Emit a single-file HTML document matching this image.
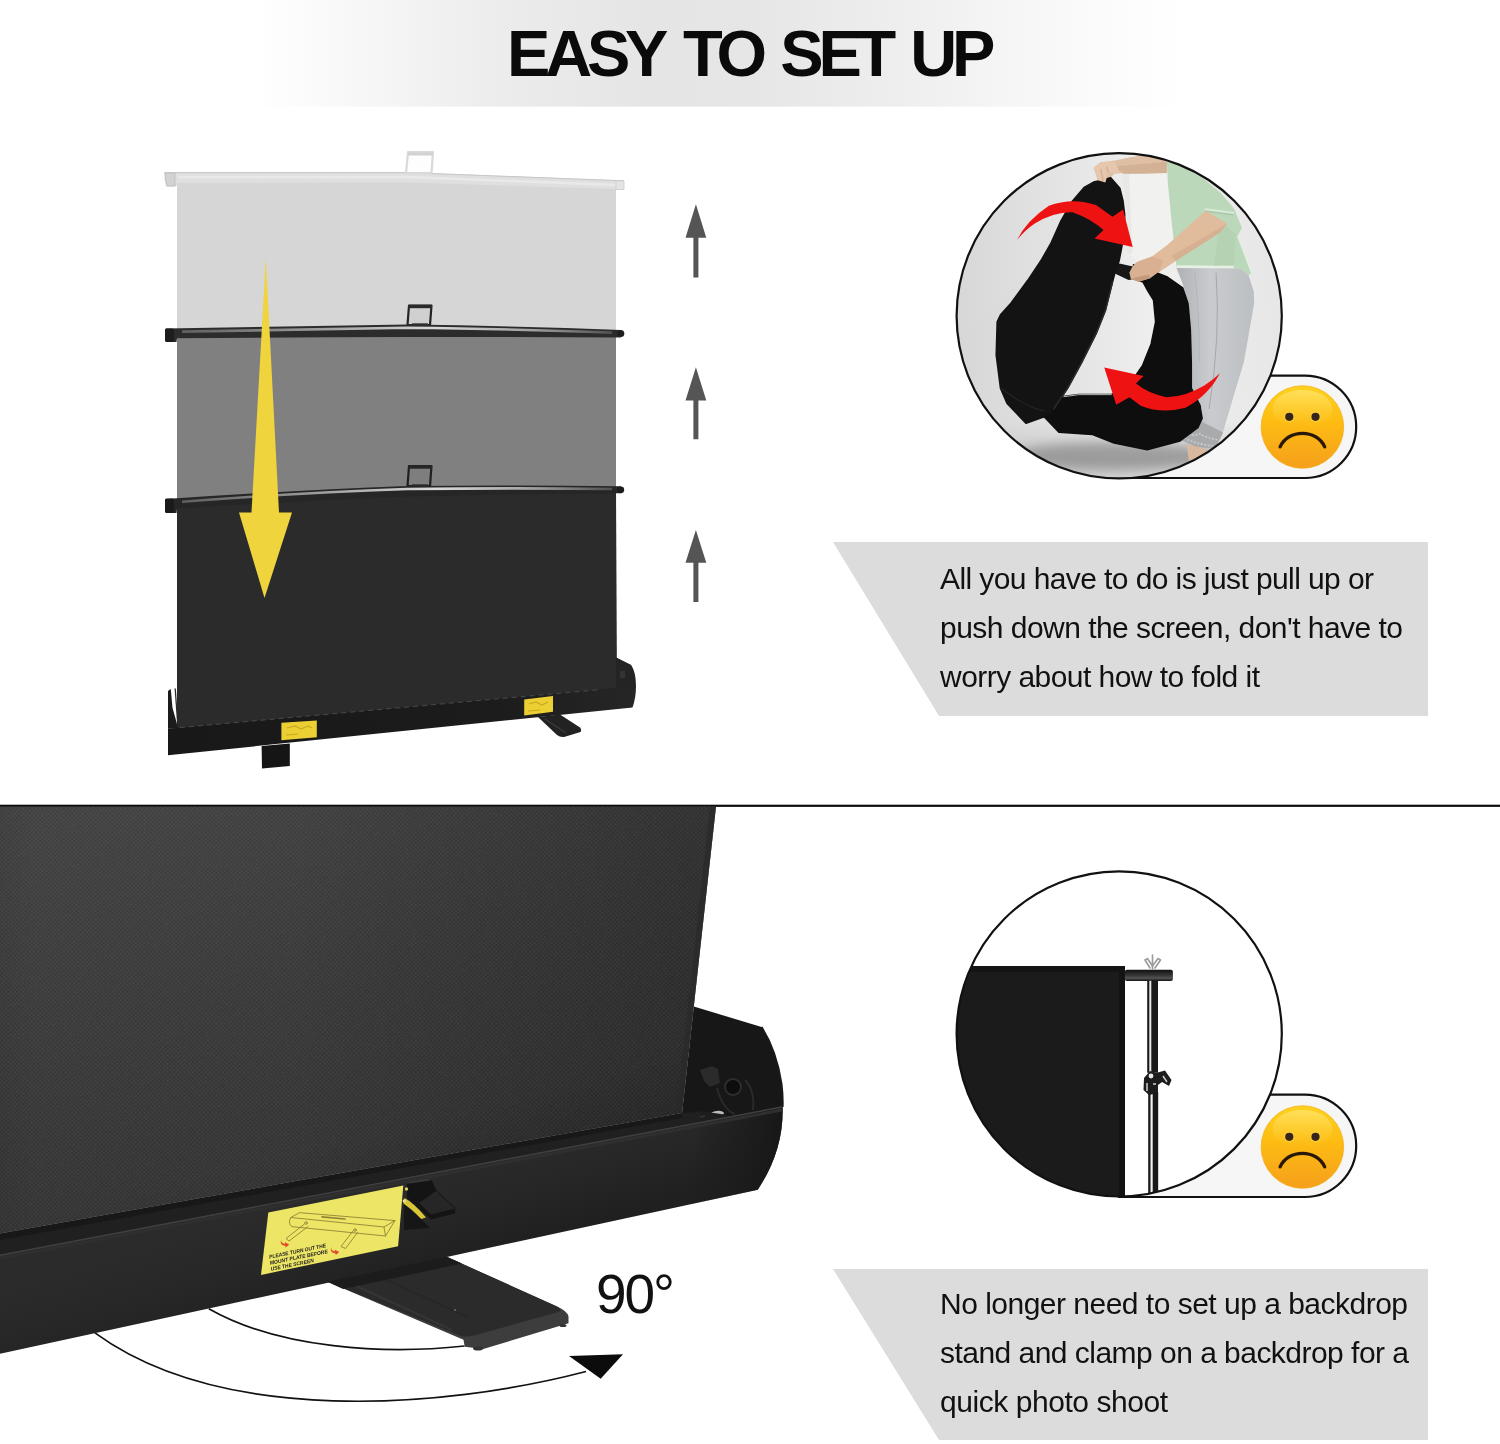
<!DOCTYPE html>
<html lang="en">
<head>
<meta charset="utf-8">
<title>Easy to set up</title>
<style>
  html, body { margin: 0; padding: 0; background: #fff; }
  body { width: 1500px; height: 1444px; overflow: hidden; position: relative;
         font-family: "Liberation Sans", Arial, Helvetica, sans-serif; }
  svg { position: absolute; left: 0; top: 0; display: block; will-change: transform; opacity: 0.9999; }
  text { font-family: "Liberation Sans", Arial, Helvetica, sans-serif; }
  .title { font-weight: 700; font-size: 65px; fill: #0a0a0a; }
  .body  { font-size: 30px; fill: #111; }
</style>
</head>
<body>
<svg width="1500" height="1444" viewBox="0 0 1500 1444">
  <defs>
    <linearGradient id="hdr" x1="0" y1="0" x2="1" y2="0">
      <stop offset="0" stop-color="#ffffff"/>
      <stop offset="0.17" stop-color="#ffffff"/>
      <stop offset="0.267" stop-color="#f4f4f4"/>
      <stop offset="0.333" stop-color="#ececec"/>
      <stop offset="0.433" stop-color="#e5e5e5"/>
      <stop offset="0.5" stop-color="#e6e6e6"/>
      <stop offset="0.6" stop-color="#eeeeee"/>
      <stop offset="0.667" stop-color="#f5f5f5"/>
      <stop offset="0.733" stop-color="#fbfbfb"/>
      <stop offset="0.79" stop-color="#ffffff"/>
      <stop offset="1" stop-color="#ffffff"/>
    </linearGradient>
    
    <linearGradient id="scr" gradientUnits="userSpaceOnUse" x1="150" y1="806" x2="260" y2="1230">
      <stop offset="0" stop-color="#424242"/>
      <stop offset="0.45" stop-color="#3a3a3a"/>
      <stop offset="0.85" stop-color="#343434"/>
      <stop offset="1" stop-color="#2c2c2c"/>
    </linearGradient>
    <linearGradient id="scrx" gradientUnits="userSpaceOnUse" x1="0" y1="0" x2="716" y2="0">
      <stop offset="0" stop-color="#000" stop-opacity="0.06"/>
      <stop offset="0.05" stop-color="#000" stop-opacity="0"/>
      <stop offset="0.4" stop-color="#000" stop-opacity="0"/>
      <stop offset="1" stop-color="#000" stop-opacity="0.2"/>
    </linearGradient>
    <linearGradient id="front" gradientUnits="userSpaceOnUse" x1="300" y1="1200" x2="330" y2="1300">
      <stop offset="0" stop-color="#2b2b2b"/>
      <stop offset="0.5" stop-color="#272727"/>
      <stop offset="1" stop-color="#202020"/>
    </linearGradient>
    <linearGradient id="cap" gradientUnits="userSpaceOnUse" x1="690" y1="1100" x2="790" y2="1100">
      <stop offset="0" stop-color="#1a1a1a" stop-opacity="0"/>
      <stop offset="0.5" stop-color="#1a1a1a" stop-opacity="0.6"/>
      <stop offset="1" stop-color="#141414" stop-opacity="0.9"/>
    </linearGradient>
    <filter id="fabric" x="0" y="0" width="100%" height="100%">
      <feTurbulence type="fractalNoise" baseFrequency="0.9" numOctaves="2" seed="3" result="n"/>
      <feColorMatrix in="n" type="matrix" values="0 0 0 0 1  0 0 0 0 1  0 0 0 0 1  0.5 0.5 0 0 -0.42"/>
      <feComposite in2="SourceGraphic" operator="in"/>
    </filter>
    <clipPath id="blclip"><rect x="0" y="806.8" width="830" height="637.2"/></clipPath>
    
    <linearGradient id="emo" x1="0" y1="0" x2="0" y2="1">
      <stop offset="0" stop-color="#ffd21f"/>
      <stop offset="0.45" stop-color="#fdbb12"/>
      <stop offset="1" stop-color="#f59f1c"/>
    </linearGradient>
    <linearGradient id="emoh" x1="0" y1="0" x2="0" y2="1">
      <stop offset="0" stop-color="#fff3a6" stop-opacity="0.45"/>
      <stop offset="1" stop-color="#ffe36a" stop-opacity="0"/>
    </linearGradient>
    <linearGradient id="bar" x1="0" y1="0" x2="0" y2="1">
      <stop offset="0" stop-color="#101010"/>
      <stop offset="0.55" stop-color="#3a3a3a"/>
      <stop offset="0.75" stop-color="#555"/>
      <stop offset="1" stop-color="#151515"/>
    </linearGradient>
    <g id="sad">
      <circle cx="0" cy="0" r="41.300" fill="url(#emo)" stroke="#f2b21f" stroke-width="0.800"/>
      <ellipse cx="0" cy="-18" rx="30" ry="19" fill="url(#emoh)"/>
      <circle cx="-13.100" cy="-10.200" r="5.300" fill="#ffd84a" opacity="0.550"/>
      <circle cx="13.100" cy="-10.200" r="5.300" fill="#ffd84a" opacity="0.550"/>
      <circle cx="-13.100" cy="-10.200" r="4.100" fill="#35241b"/>
      <circle cx="13.100" cy="-10.200" r="4.100" fill="#35241b"/>
      <path d="M-22.300,19.900 C-14.500,1.800 14.500,1.800 22.300,19.900" fill="none" stroke="#2a1708" stroke-width="3.300" stroke-linecap="round"/>
    </g>
    <clipPath id="c2"><circle cx="1119.200" cy="1033.900" r="162.600"/></clipPath>
    
    <clipPath id="c1"><circle cx="1119.200" cy="315.800" r="162.600"/></clipPath>
    <linearGradient id="phbg" gradientUnits="userSpaceOnUse" x1="0" y1="700" x2="1444" y2="600">
      <stop offset="0" stop-color="#d6d6d6"/>
      <stop offset="0.35" stop-color="#e4e4e4"/>
      <stop offset="0.6" stop-color="#efefef"/>
      <stop offset="1" stop-color="#e6e6e6"/>
    </linearGradient>
    <linearGradient id="floor" gradientUnits="userSpaceOnUse" x1="0" y1="1150" x2="0" y2="1420">
      <stop offset="0" stop-color="#bdbdbd" stop-opacity="0"/>
      <stop offset="0.6" stop-color="#b4b4b4" stop-opacity="0.55"/>
      <stop offset="1" stop-color="#c8c8c8" stop-opacity="0.5"/>
    </linearGradient>
    <linearGradient id="pants" gradientUnits="userSpaceOnUse" x1="980" y1="0" x2="1290" y2="0">
      <stop offset="0" stop-color="#b2b5b8"/>
      <stop offset="0.4" stop-color="#c9cbce"/>
      <stop offset="1" stop-color="#bcbfc2"/>
    </linearGradient>
    <filter id="blur18" x="-20%" y="-50%" width="140%" height="200%"><feGaussianBlur stdDeviation="22"/></filter>
    <linearGradient id="tlbase" gradientUnits="userSpaceOnUse" x1="168" y1="740" x2="636" y2="695">
      <stop offset="0" stop-color="#181818"/>
      <stop offset="0.7" stop-color="#1c1c1c"/>
      <stop offset="1" stop-color="#262626"/>
    </linearGradient>
    <pattern id="weave" width="3" height="3" patternUnits="userSpaceOnUse" patternTransform="rotate(45)">
      <rect width="3" height="3" fill="#000" fill-opacity="0"/>
      <rect x="0" y="0" width="1.500" height="1.500" fill="#fff" fill-opacity="0.055"/>
      <rect x="1.500" y="1.500" width="1.500" height="1.500" fill="#000" fill-opacity="0.080"/>
    </pattern>
    <linearGradient id="barhl" gradientUnits="userSpaceOnUse" x1="180" y1="0" x2="620" y2="0">
      <stop offset="0" stop-color="#5e5e5e"/>
      <stop offset="0.3" stop-color="#9a9a9a"/>
      <stop offset="0.58" stop-color="#dadada"/>
      <stop offset="0.8" stop-color="#a2a2a2"/>
      <stop offset="1" stop-color="#484848"/>
    </linearGradient>
    <!--DEFS-->
  </defs>

  <!-- ===== header band ===== -->
  <rect x="0" y="0" width="1500" height="106.6" fill="url(#hdr)"/>
  <text class="title" x="507" y="76" letter-spacing="-5.2" word-spacing="4.6">EASY <tspan dx="3.6">TO</tspan> <tspan dx="1">SET</tspan> <tspan dx="1.6">UP</tspan></text>

  <!-- ===== divider ===== -->
  <rect x="0" y="804.7" width="1500" height="2.2" fill="#0d0d0d"/>

  <!-- ===== text box 1 ===== -->
  <polygon points="833,542 1428,542 1428,716 939,716" fill="#dcdcdc"/>
  <text class="body" x="940" y="589" textLength="434" lengthAdjust="spacing">All you have to do is just pull up or</text>
  <text class="body" x="940" y="638" textLength="463" lengthAdjust="spacing">push down the screen, don't have to</text>
  <text class="body" x="940" y="687" textLength="320" lengthAdjust="spacing">worry about how to fold it</text>

  <!-- ===== text box 2 ===== -->
  <polygon points="833,1269 1428,1269 1428,1440 939,1440" fill="#dcdcdc"/>
  <text class="body" x="940" y="1314" textLength="468" lengthAdjust="spacing">No longer need to set up a backdrop</text>
  <text class="body" x="940" y="1363" textLength="469" lengthAdjust="spacing">stand and clamp on a backdrop for a</text>
  <text class="body" x="940" y="1412" textLength="228" lengthAdjust="spacing">quick photo shoot</text>

  
  <!-- ===== TOP LEFT: pull-up screen ===== -->
  <g id="tl">
    <!-- light (top) screen -->
    <polygon points="177,178 407,175 616,186 616,332 177,332" fill="#d6d6d6"/>
    <!-- top light bar -->
    <polygon points="164.500,172.300 407,172.300 624,180.500 624,189.500 615,189 407,182.500 178,183 176,186.500 166,186.500 164.500,180" fill="#dfdfdf"/>
    <polyline points="164.500,172.600 407,172.600 624,180.800" fill="none" stroke="#c6c6c6" stroke-width="1"/>
    <polyline points="178,177 407,177 616,185" fill="none" stroke="#e9e9e9" stroke-width="2.500"/>
    <path d="M165,173 L175,173 L175,186 L167,186 Q165.500,180 165,173 Z" fill="#d2d2d2" stroke="#bcbcbc" stroke-width="0.800"/>
    <path d="M616,181 L624,181 L624,189.500 L616,189.500 Z" fill="#e4e4e4" stroke="#cdcdcd" stroke-width="0.800"/>
    <!-- top handle (light) -->
    <polygon points="408,152 433,152 431.5,173 406,173" fill="#fdfdfd" stroke="#d9d9d9" stroke-width="2.2" stroke-linejoin="round"/>
    <line x1="408" y1="154" x2="433" y2="154" stroke="#d2d2d2" stroke-width="3"/>

    <!-- mid grey screen -->
    <polygon points="177,335 616,335 616,492 407,490 177,505" fill="#808080"/>
    <!-- black screen -->
    <polygon points="177,503 407,490 616,490 617,690 177,730" fill="#2b2b2b"/>

    <!-- handle 1 -->
    <polygon points="409,305.5 431.5,305.5 430,325 407.5,325" fill="#d0d0d0" stroke="#242424" stroke-width="2.2" stroke-linejoin="round"/>
    <line x1="408.5" y1="306.5" x2="432" y2="306.5" stroke="#2a2a2a" stroke-width="3.4"/>
    <line x1="412" y1="324.5" x2="428" y2="324.5" stroke="#333" stroke-width="2.4"/>
    <!-- black bar 1 -->
    <path d="M165.500,328.500 Q290,326.500 407,324.500 Q520,326 621,330 L621,337.500 Q520,337 407,337 Q290,337.500 177,338.200 L176.500,342 L167,342 Z" fill="#2c2c2c"/>
    <path d="M182,331.600 Q290,329.800 407,327.800 Q520,329 612,332.600" fill="none" stroke="url(#barhl)" stroke-width="2.600"/>
    <rect x="165" y="328.5" width="9" height="13.5" rx="1.5" fill="#1c1c1c"/>
    <circle cx="620.800" cy="333.600" r="3.500" fill="#1e1e1e"/>

    <!-- handle 2 -->
    <polygon points="409,466 431.5,466 430,486 407.5,486" fill="#7e7e7e" stroke="#1f1f1f" stroke-width="2.2" stroke-linejoin="round"/>
    <line x1="408.5" y1="467" x2="432" y2="467" stroke="#262626" stroke-width="3.4"/>
    <line x1="412" y1="485.5" x2="428" y2="485.5" stroke="#2b2b2b" stroke-width="2.4"/>
    <!-- black bar 2 -->
    <path d="M165.500,499 Q290,490.500 407,486 Q520,484.800 621,486.200 L621,493.200 Q520,494 407,496.500 Q290,501 177,508.800 L176.500,513 L167,513 Z" fill="#262626"/>
    <path d="M182,501.800 Q290,493.200 407,489 Q520,487.800 612,489" fill="none" stroke="url(#barhl)" stroke-width="2.600"/>
    <rect x="165" y="498.5" width="9" height="14.5" rx="1.5" fill="#1a1a1a"/>
    <circle cx="620.800" cy="489.800" r="3.400" fill="#1c1c1c"/>

    <!-- base housing -->
    <polygon points="168,691 170.800,689 172.500,708 176.500,722 178,728.800 168,728.800" fill="#1b1b1b"/>
    <path d="M175.200,688.500 L177.600,722" stroke="#2a2a2a" stroke-width="1.300" fill="none"/>
    <path d="M616,657.500 L631,665 Q636,672 636,686 Q636,698 632.500,707.500 L168,755.200 L168,728.800 L616,687.800 Z" fill="url(#tlbase)"/>
    <path d="M616,657.500 L631,665 Q635,672 635,686 L616,687.800 Z" fill="#242424"/>
    <rect x="620" y="671" width="5" height="7" fill="#333"/>
    <line x1="180" y1="727.600" x2="600" y2="689.600" stroke="#5a5a5a" stroke-width="1" stroke-dasharray="5 4" opacity="0.700"/>
    <!-- feet -->
    <polygon points="261.600,746 289.800,743.500 289.800,766 262,768.400" fill="#151515"/>
    <path d="M538,717 L560,714.500 L580,727.500 Q582,730 580.500,732 L564,737 Q560,737.500 557,735 Z" fill="#222"/>
    <path d="M545,719 L566,733" stroke="#3a3a3a" stroke-width="1.500" fill="none"/>
    <!-- yellow labels -->
    <polygon points="281.400,722.800 316.800,720.400 316.800,737.200 281.400,740.200" fill="#ecd033"/>
    <polygon points="524.200,699.500 553,696 553,711.800 524.200,715.600" fill="#ecd033"/>
    <path d="M287,728 l8,-2 l6,3 l7,-3 l4,2 M286,735 l12,-1" fill="none" stroke="#c9a91f" stroke-width="1.2"/>
    <path d="M529,704 l7,-2 l6,3 l6,-3 M528,711 l12,-1" fill="none" stroke="#c9a91f" stroke-width="1.2"/>

    <!-- big yellow arrow -->
    <polygon points="265.8,258 279,512.5 292,512.5 264.5,598 239,512.5 251.5,512.5" fill="#efd43e"/>

    <!-- three up arrows -->
    <g fill="#555">
      <path d="M695.9,204.3 L706.3,237.8 L698.4,237.8 L698.4,277.4 L693.4,277.4 L693.4,237.8 L685.5,237.8 Z"/>
      <path d="M695.9,367.2 L706.3,400.6 L698.4,400.6 L698.4,439.3 L693.4,439.3 L693.4,400.6 L685.5,400.6 Z"/>
      <path d="M695.9,530 L706.3,562.8 L698.4,562.8 L698.4,602 L693.4,602 L693.4,562.8 L685.5,562.8 Z"/>
    </g>
  </g>

  <!--TOPLEFT-->

  
  <!-- ===== TOP RIGHT: folding a pop-up backdrop (photo traced as vector) ===== -->
  <g id="tr">
    <path d="M1119,375.600 H1305 A51.200,51.200 0 0 1 1305,478 H1119 Z" fill="#f6f6f6" stroke="#111" stroke-width="2.200"/>
    <circle cx="1119.200" cy="315.800" r="162.600" fill="#e6e6e6"/>
    <g clip-path="url(#c1)">
      <g transform="translate(950 150) scale(0.235457)">
        <rect x="0" y="0" width="1444" height="1444" fill="url(#phbg)"/>
        <rect x="0" y="1100" width="1444" height="344" fill="url(#floor)"/>
        <!-- floor shadow under fabric -->
        <ellipse cx="700" cy="1300" rx="430" ry="60" fill="#757575" opacity="0.55" filter="url(#blur18)"/>
        <!-- white panel behind -->
        <path d="M727,100 L960,96 L965,470 L800,470 L752,440 L754,273 L747,215 Z" fill="#f1f1ef"/>
        <path d="M727,100 L760,100 L775,440 L752,440 L754,273 L747,215 Z" fill="#e6e6e4" opacity="0.8"/>
        <!-- green shirt -->
        <path d="M921,36 L1000,72 L1085,128 L1150,183 L1206,248 L1240,330 L1222,365 L1281,521 L1268,532 L1232,503 L1080,500 L962,501 L955,430 L945,340 L935,240 L925,140 Z" fill="#bbd8ba"/>
        <path d="M962,489 L1205,492 L1205,503 L962,501 Z" fill="#e6f0e3"/>
        <path d="M1082,251 L1206,267" stroke="#dcebd8" stroke-width="7" fill="none"/>
        <path d="M1084,260 L1204,276" stroke="#9dbb9d" stroke-width="4" fill="none" opacity="0.8"/>
        <path d="M1222,365 L1281,521" stroke="#e4efe0" stroke-width="6" fill="none"/>
        <path d="M1150,300 L1215,360 L1205,490 L1120,492 Z" fill="#b2d1b1" opacity="0.7"/>
        <!-- grey pants -->
        <path d="M962,501 L1232,503 L1268,532 L1290,600 L1292,650 L1266,800 L1248,900 L1201,1057 L1154,1216 L1125,1262 L1000,1215 L1062,1150 L1070,1100 L1061,1085 L1024,1011 L1005,824 L1014,650 L985,560 Z" fill="url(#pants)"/>
        <path d="M1130,520 Q1150,800 1100,1100" stroke="#a2a5a9" stroke-width="4" fill="none"/>
        <path d="M1040,520 Q1060,700 1058,900" stroke="#a7aaae" stroke-width="3" fill="none" opacity="0.7"/>
        <!-- cuff -->
        <path d="M990,1195 L1062,1150 L1160,1200 L1125,1268 L1050,1262 L986,1235 Z" fill="#a9aaac"/>
        <path d="M1000,1200 q30,20 60,5 q30,20 80,25 M995,1222 q40,25 120,35" stroke="#d6d7d9" stroke-width="7" fill="none" opacity="0.7" stroke-dasharray="9 6"/>
        <!-- leg -->
        <path d="M1005,1250 L1085,1268 L1078,1345 L1018,1348 Z" fill="#d8b89e"/>
        <!-- upper arm + hand -->
        <path d="M610,75 L640,52 L700,45 L760,32 L830,20 L921,8 L921,98 L820,101 L740,101 L721,98 L700,100 L665,132 L628,128 Z" fill="#dfbfa3"/>
        <path d="M700,70 L921,50 L921,98 L740,101 Z" fill="#c9a88a" opacity="0.6"/>
        <!-- forearm + hand -->
        <path d="M1086,258 L1177,313 L1144,352 L962,469 L884,521 L850,545 L795,553 L770,530 L780,500 L800,472 L858,452 L923,404 Z" fill="#e0bb9c"/>
                <path d="M1177,313 L1144,352 L962,469 L940,450 Z" fill="#cfa88a" opacity="0.6"/>
        <!-- black fabric: back/bottom loop -->
        <path d="M780,488 L860,515 L923,540 L988,586 L1010,651 L1020,762 L1024,900 L1024,1011 L1061,1085 L1070,1140 L1052,1179 L977,1235 L837,1272 L697,1244 L603,1207 L463,1198 L400,1132 L482,1048 L547,1039 L687,1039 L760,1000 L818,917 L855,824 L874,730 L865,637 L842,600 L820,560 L780,545 Z" fill="#0e0e0e" stroke="#0e0e0e" stroke-width="8" stroke-linejoin="round"/>
        <!-- strap -->
        <path d="M700,478 L792,498 L798,546 L758,552 L700,524 Z" fill="#171717"/>
        <path d="M790,478 L858,452 L905,468 L890,515 L850,545 L800,560 L768,548 L762,520 L775,495 Z" fill="#d9b192"/>
        <path d="M768,548 L800,560 L850,545 L845,530 L790,540 Z" fill="#c39a7c"/>
        <!-- black fabric: front loop -->
        <path d="M640,130 L682,118 L721,163 L734,215 L741,273 L740,350 L728,417 L718,469 L700,520 L690,560 L660,680 L620,780 L560,900 L500,1010 L440,1100 L400,1132 L323,1160 L243,1076 L215,1011 L197,871 L201,730 L215,700 L260,650 L330,555 L390,465 L430,395 L470,305 L520,218 L570,160 L610,137 Z" fill="#131313" stroke="#131313" stroke-width="8" stroke-linejoin="round"/>
        <path d="M440,1100 L500,1010 L560,900 L620,780 L660,680 L690,560" stroke="#2c2c2c" stroke-width="6" fill="none"/>
        <path d="M482,1048 L547,1039 L687,1039" stroke="#e8e8e8" stroke-width="4" fill="none" opacity="0.8"/>
        <path d="M215,1011 Q300,1080 400,1110" stroke="#242424" stroke-width="5" fill="none"/>
        <!-- fingers over the top -->
        <path d="M610,75 L640,52 L700,48 L722,100 L700,100 L672,96 L660,138 L628,128 Z" fill="#e6c6ac"/>
        <path d="M640,80 L650,130 M665,70 L672,96" stroke="#c9a68a" stroke-width="4" fill="none"/>
        <!-- red arrows -->
        <path d="M285,382 Q325,300 420,237 Q520,200 620,234 L690,284 L735,253 L776,412 L614,376 L652,340 Q600,292 520,264 Q440,262 360,312 Q318,340 285,382 Z" fill="#ee1212"/>
        <path d="M1146,948 Q1100,1040 1000,1095 Q900,1122 810,1086 L762,1050 L706,1082 L655,924 L822,960 L790,992 Q840,1034 920,1050 Q1000,1048 1080,1000 Q1120,975 1146,948 Z" fill="#ee1212"/>
      </g>
    </g>
    <circle cx="1119.200" cy="315.800" r="162.600" fill="none" stroke="#111" stroke-width="2.200"/>
    <use href="#sad" x="1302.400" y="427"/>
  </g>

  <!--TOPRIGHT-->

  
  <!-- ===== BOTTOM LEFT: base close-up ===== -->
  <g id="bl" clip-path="url(#blclip)">
    <!-- 90 degree arcs -->
    <path d="M208.8,1308.7 C279.6,1349 384.8,1354.6 464.5,1346" fill="none" stroke="#111" stroke-width="1.7"/>
    <path d="M94.9,1332.9 C221,1424.7 440.5,1409.4 586,1371.5" fill="none" stroke="#111" stroke-width="1.7"/>
    <polygon points="569,1356 623,1354.2 600.7,1378.8" fill="#0c0c0c"/>
    <text x="596" y="1313" font-size="55" fill="#111" textLength="79" lengthAdjust="spacing">90°</text>

    <!-- inside / back panel of housing -->
    <path d="M693.8,1006.5 L761.6,1027 Q777,1052 781.5,1084 Q783,1096 782.6,1107 L700,1124 L682,1113 Z" fill="#171717"/>
    <!-- small parts inside -->
    <path d="M700,1070 l12,-4 l6,3 l2,14 l-10,4 l-6,-6 z" fill="#2b2b2b"/>
    <circle cx="733" cy="1087" r="8" fill="#0d0d0d" stroke="#2d2d2d" stroke-width="2"/>
    <path d="M717,1088 q6,22 18,26 M745,1080 q10,10 8,30" fill="none" stroke="#2a2a2a" stroke-width="2"/>
    <ellipse cx="717" cy="1114" rx="7" ry="3" fill="#bdbdbd" transform="rotate(-8 717 1114)"/>
    <!-- roller tube -->
    <polygon points="560,1140 700,1111 728,1115 722,1124 560,1157" fill="#1d1d1d"/>
    <polyline points="560,1146 705,1116" fill="none" stroke="#303030" stroke-width="2"/>

    <!-- screen fabric -->
    <polygon points="0,806.8 716,806.8 693.8,1006.5 682,1113 0,1233.4" fill="url(#scr)"/>
    <polygon points="0,806.8 716,806.8 693.8,1006.5 682,1113 0,1233.4" fill="url(#scrx)"/>
    <polygon points="0,806.8 716,806.8 693.8,1006.5 682,1113 0,1233.4" fill="url(#weave)"/>
    <polygon points="0,806.8 716,806.8 693.8,1006.5 682,1113 0,1233.4" fill="#fff" filter="url(#fabric)" opacity="0.13"/>
    <!-- screen right edge shade -->
    <polygon points="716,806.8 693.8,1006.5 682,1113 676,1113 688,1006 710,806.8" fill="#2a2a2a" opacity="0.7"/>
    <!-- inner shadow band -->
    <polygon points="0,1233.4 682,1113 700,1112 700,1124 0,1256" fill="#202020"/>
    <polygon points="0,1233.4 682,1113 682,1118 0,1240" fill="#161616" opacity="0.7"/>

    <!-- front face of housing -->
    <path d="M0,1254.9 L782.6,1106.5 Q784,1150 757.8,1189.7 L0,1353.8 Z" fill="url(#front)"/>
    <path d="M700,1122.2 L782.6,1106.5 Q784,1150 757.8,1189.7 L690,1204.4 Z" fill="url(#cap)"/>
    <!-- end cap outline -->
    <path d="M761.6,1027 Q777,1052 781.5,1084 Q783,1096 782.6,1107" fill="none" stroke="#1a1a1a" stroke-width="2"/>
    <!-- lip highlight -->
    <line x1="0" y1="1255.3" x2="782" y2="1107" stroke="#404040" stroke-width="1.400"/>
    <line x1="0" y1="1258.4" x2="782" y2="1110" stroke="#2f2f2f" stroke-width="3"/>

    <!-- foot / mount plate -->
    <path d="M327,1281.5 L446,1256.5 L558,1307 Q567,1311 568.5,1316.3 L568.5,1323.3 L483.3,1349 L464.7,1346.7 L463.5,1339.7 Z" fill="#3d3d3d"/>
    <path d="M327,1281.5 L446,1256.5 L556,1306 Q562,1309 560,1311.5 L474,1335.5 Q466,1337 461,1336 Z" fill="#2b2b2b"/>
    <path d="M350,1283 L452,1330" fill="none" stroke="#353535" stroke-width="2"/>
    <path d="M380,1277 L470,1318" fill="none" stroke="#262626" stroke-width="1.5"/>
    <circle cx="455" cy="1310" r="0.9" fill="#777"/>
    <ellipse cx="478" cy="1348.5" rx="5" ry="2" fill="#333"/>
    <ellipse cx="563" cy="1325.5" rx="3.5" ry="1.6" fill="#333"/>
    <!-- shadow of housing on foot -->
    <polygon points="327,1281.5 446,1256.5 462,1263.5 343,1289" fill="#1c1c1c"/>

    <!-- latch -->
    <path d="M407,1184 L432,1180.5 L436,1190 L455.5,1208 L455,1213.5 L431,1219.5 L418,1208 L407,1198 Z" fill="#141414"/>
    <path d="M436,1191 L455,1208.5 L431,1214.5 L419,1203 Z" fill="#262626"/>
    <path d="M404.5,1198 Q414,1203 426,1217.5 L421,1219 Q411,1208 403.5,1204 Z" fill="#d9c637"/>
    <path d="M404,1204 L421,1219 L430,1228 L404,1230 Z" fill="#161616"/>
    <circle cx="406.5" cy="1189" r="1.7" fill="#d8c85a"/>
    <circle cx="404.3" cy="1201" r="1.7" fill="#e8e0a0"/>
    <path d="M409,1182.5 l20,-3" stroke="#3a3a3a" stroke-width="1.5"/>

    <!-- yellow label -->
    <polygon points="268.3,1212.5 403.3,1185.4 398.1,1246.3 261,1274.9" fill="#ece565"/>
    <g fill="none" stroke="#8f8636" stroke-width="0.9" stroke-linejoin="round" stroke-linecap="round">
      <path d="M300,1212.700 L395,1220.600 L385.500,1236 L291.500,1226.600 Q287.500,1222 291,1217.500 Z"/>
      <path d="M291,1217.500 L384,1227 L385.500,1236 M384,1227 L395,1220.600"/>
      <path d="M304.500,1224 L286,1238.500 L289,1241 L308,1226.500"/>
      <path d="M353,1231 L341,1246.500 L345.500,1248.500 L357.500,1232.500"/>
      <circle cx="306" cy="1223" r="1.300"/>
      <circle cx="355" cy="1230" r="1.300"/>
      <path d="M322,1216.800 L345,1219" stroke-width="1.700"/>
    </g>
    <path d="M281.500,1238.500 q-1.500,4.500 3.500,5.500 l-0.300,-1.800 l4.500,2.300 l-3.500,3 l-0.300,-1.700 q-6.500,-0.500 -3.900,-7.300z" fill="#e2452a"/>
    <path d="M331.500,1246 q-1.500,4.500 3.500,5.500 l-0.300,-1.800 l4.500,2.300 l-3.500,3 l-0.300,-1.700 q-6.500,-0.500 -3.900,-7.300z" fill="#e2452a"/>
    <g transform="translate(268.3 1212.5) rotate(-11.4)">
      <text font-size="5.300" font-weight="700" font-style="italic" fill="#222" x="-8" y="45.500" textLength="58" lengthAdjust="spacingAndGlyphs">PLEASE TURN OUT THE</text>
      <text font-size="5.300" font-weight="700" font-style="italic" fill="#222" x="-8.500" y="51.600" textLength="59" lengthAdjust="spacingAndGlyphs">MOUNT PLATE BEFORE</text>
      <text font-size="5.300" font-weight="700" font-style="italic" fill="#222" x="-9" y="57.700" textLength="44" lengthAdjust="spacingAndGlyphs">USE THE SCREEN</text>
    </g>
  </g>

  <!--BOTTOMLEFT-->

  
  <!-- ===== BOTTOM RIGHT: backdrop stand circle ===== -->
  <g id="br">
    <path d="M1119,1094.600 H1305 A51.200,51.200 0 0 1 1305,1197 H1119 Z" fill="#f6f6f6" stroke="#111" stroke-width="2.200"/>
    <circle cx="1119.200" cy="1033.900" r="162.600" fill="#fff"/>
    <g clip-path="url(#c2)">
      <!-- black backdrop -->
      <rect x="940" y="966" width="185" height="240" fill="#1b1b1b"/>
      <rect x="940" y="966" width="185" height="6" fill="#141414"/>
      <rect x="1119" y="972" width="6" height="234" fill="#131313"/>
      <!-- crossbar -->
      <rect x="1124.900" y="969.700" width="48" height="11.200" rx="2" fill="url(#bar)"/>
      <!-- wing nut -->
      <g stroke="#9a9a9a" stroke-width="1.600" fill="none" stroke-linecap="round">
        <path d="M1152.500,955 L1152.500,969"/>
        <path d="M1150,968 L1145,960 L1147.500,958.500 L1152.500,966"/>
        <path d="M1155,968 L1160.500,960 L1158,958.500 L1152.500,966"/>
      </g>
      <!-- vertical pole -->
      <rect x="1147.200" y="980.800" width="10.800" height="92" fill="#1a1a1a"/>
      <rect x="1149.300" y="980.800" width="2" height="92" fill="#e8e8e8"/>
      <rect x="1148.200" y="1092" width="10" height="110" fill="#1a1a1a"/>
      <rect x="1150.500" y="1092" width="2.200" height="110" fill="#f2f2f2"/>
      <!-- clamp -->
      <path d="M1144,1078 L1150,1071 L1156,1073 L1165,1070.500 L1171.500,1080 L1169,1086 L1162,1082 L1158,1085 L1158,1093 L1149,1095 L1143.500,1090 Z" fill="#1c1c1c"/>
      <circle cx="1151" cy="1076" r="2.400" fill="#e8e8e8"/>
      <path d="M1147,1083 L1147,1091 M1153,1084 L1156,1084 M1163,1076 L1167,1082" stroke="#cfcfcf" stroke-width="1.500" fill="none"/>
    </g>
    <circle cx="1119.200" cy="1033.900" r="162.600" fill="none" stroke="#111" stroke-width="2.200"/>
    <use href="#sad" x="1302.400" y="1147"/>
  </g>

  <!--BOTTOMRIGHT-->
</svg>
</body>
</html>
